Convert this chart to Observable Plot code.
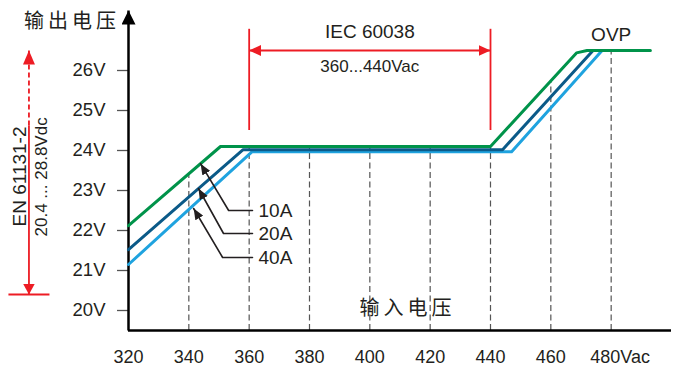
<!DOCTYPE html>
<html><head><meta charset="utf-8">
<script src="https://cdn.jsdelivr.net/npm/d3@7"></script>
<script src="https://cdn.jsdelivr.net/npm/@observablehq/plot@0.6"></script>
<style>
body{margin:0;background:#fff}
svg{display:block}
g[font-family*="CJK"] text{letter-spacing:4px}
</style>
</head><body><div id="chart"></div>
<script>
// ---- data ----
const inputTicks = [320, 340, 360, 380, 400, 420, 440, 460, 480];
const outputTicks = [20, 21, 22, 23, 24, 25, 26];
const gridTicks = [340, 360, 380, 400, 420, 440, 460, 480];

const vin10A = [320, 350.5, 440, 468.5, 472, 493];
const vout10A = [22.12, 24.1, 24.1, 26.44, 26.5, 26.5];
const vin20A = [320, 358, 444, 474, 480];
const vout20A = [21.52, 24.02, 24.02, 26.5, 26.5];
const vin40A = [320, 361, 447, 477, 480];
const vout40A = [21.15, 23.97, 23.97, 26.5, 26.5];

const loadLabels = ["10A", "20A", "40A"];
const loadTipVin = [343.9, 343.2, 341.6];
const loadTipVout = [23.67, 23.05, 22.55];
const loadElbowVin = [353.2, 351.5, 351.2];
const loadLabelVout = [22.5, 21.925, 21.325];
const loadLineEndVin = 361.1;
const loadLabelVin = 363.1;

const iecRange = [360, 440];
const enRange = [20.4, 28.8];

// ---- helpers ----
const toRows = (xs, ys) => xs.map((x, i) => ({x, y: ys[i]}));
const greenAt = d3.scaleLinear().domain(vin10A).range(vout10A);

function head(len, wid, color, orient = "auto") {
  return () => {
    const m = d3.create("svg:marker")
      .attr("viewBox", `0 ${-wid / 2} ${len} ${wid}`)
      .attr("markerUnits", "userSpaceOnUse")
      .attr("markerWidth", len)
      .attr("markerHeight", wid)
      .attr("refX", len)
      .attr("refY", 0)
      .attr("orient", orient)
      .attr("fill", color)
      .attr("stroke", "none");
    m.append("path").attr("d", `M0,${-wid / 2}L${len},0L0,${wid / 2}Z`);
    return m.node();
  };
}

const RED = "#ed1c24", INK = "#231f20";
const GREEN = "#00934a", DBLUE = "#0b5a88", LBLUE = "#1fa3df";
const LATIN = "Liberation Sans, Arial, sans-serif";
const CJK = "Noto Sans CJK SC";

const leaders = loadLabels.flatMap((k, i) => [
  {k, x: loadLineEndVin, y: loadLabelVout[i]},
  {k, x: loadElbowVin[i], y: loadLabelVout[i]},
  {k, x: loadTipVin[i], y: loadTipVout[i]}
]);
const leaderText = loadLabels.map((k, i) => ({k, x: loadLabelVin, y: loadLabelVout[i]}));

const plot = Plot.plot({
  width: 678,
  height: 367,
  marginLeft: 128,
  marginRight: 7,
  marginTop: 10,
  marginBottom: 37,
  x: {domain: [320, 500]},
  y: {domain: [19.5, 27.5]},
  style: {fontFamily: LATIN, color: INK, background: "#fff"},
  marks: [
    // dashed guides
    Plot.ruleX(gridTicks, {x: d => d, y1: 19.5, y2: d => greenAt(d), stroke: "#555", strokeWidth: 1.2, strokeDasharray: "6,3.5"}),
    // axes
    Plot.axisY({ticks: outputTicks, tickFormat: d => d + "V", tickSize: 11, tickPadding: 12, fontSize: 18.5, label: null, stroke: "#555", fill: INK, strokeWidth: 1.3}),
    Plot.axisX({ticks: inputTicks.slice(0, -1), tickSize: 0, tickPadding: 19.5, fontSize: 18, label: null, fill: INK}),
    Plot.axisX({ticks: inputTicks.slice(-1), tickFormat: d => d + "Vac", tickSize: 0, tickPadding: 19.5, dx: 9, fontSize: 18, label: null, fill: INK}),
    Plot.ruleY([19.5], {x1: 320, x2: 500, stroke: "#000", strokeWidth: 2.5}),
    Plot.link([0], {x1: 320, x2: 320, y1: 19.5, y2: 27.5, stroke: "#000", strokeWidth: 2.5, markerEnd: head(14, 14, "#000")}),
    // characteristic lines
    Plot.line(toRows(vin40A, vout40A), {x: "x", y: "y", stroke: LBLUE, strokeWidth: 3}),
    Plot.line(toRows(vin20A, vout20A), {x: "x", y: "y", stroke: DBLUE, strokeWidth: 3}),
    Plot.line(toRows(vin10A, vout10A), {x: "x", y: "y", stroke: GREEN, strokeWidth: 3}),
    // load leaders
    Plot.line(leaders, {x: "x", y: "y", z: "k", stroke: INK, strokeWidth: 1.6, markerEnd: head(11, 9, INK)}),
    Plot.text(leaderText, {x: "x", y: "y", text: "k", textAnchor: "start", fontSize: 19, fill: INK}),
    // IEC 60038 bracket
    Plot.ruleX(iecRange, {x: d => d, y1: 24.5, y2: 27.03, stroke: RED, strokeWidth: 1.8}),
    Plot.link([0], {x1: iecRange[0], x2: iecRange[1], y1: 26.5, y2: 26.5, stroke: RED, strokeWidth: 1.8,
      markerStart: head(12, 11, RED, "auto-start-reverse"), markerEnd: head(12, 11, RED)}),
    Plot.text(["IEC 60038"], {x: 400, y: 26.975, text: d => d, fontSize: 19, fill: INK}),
    Plot.text([`${iecRange[0]}...${iecRange[1]}Vac`], {x: 400, y: 26.11, text: d => d, fontSize: 17, fill: INK}),
    // OVP
    Plot.text(["OVP"], {x: 480, y: 26.9, text: d => d, fontSize: 19, fill: INK}),
    // EN 61131-2 range arrow (left)
    Plot.link([0], {x1: 287, x2: 287, y1: 24.625, y2: 26.5, stroke: RED, strokeWidth: 1.8, strokeDasharray: "5,3", markerEnd: head(14, 12, RED)}),
    Plot.link([0], {x1: 287, x2: 287, y1: 24.625, y2: enRange[0], stroke: RED, strokeWidth: 1.8, markerEnd: head(11, 12, RED)}),
    Plot.link([0], {x1: 280.2, x2: 293.8, y1: enRange[0], y2: enRange[0], stroke: RED, strokeWidth: 1.8}),
    Plot.text(["EN 61131-2"], {x: 284.0, y: 23.35, text: d => d, rotate: -90, fontSize: 19, fill: INK}),
    Plot.text([`${enRange[0]} ... ${enRange[1]}Vdc`], {x: 291.3, y: 23.34, text: d => d, rotate: -90, fontSize: 17, fill: INK}),
    // axis titles (Chinese)
    Plot.text(["输出电压"], {x: 301.3, y: 27.225, text: d => d, fontFamily: CJK, fontSize: 20, fill: INK}),
    Plot.text(["输入电压"], {x: 412.5, y: 20.05, text: d => d, fontFamily: CJK, fontSize: 20, fill: INK})
  ]
});
document.getElementById("chart").append(plot);
</script>
</body></html>
